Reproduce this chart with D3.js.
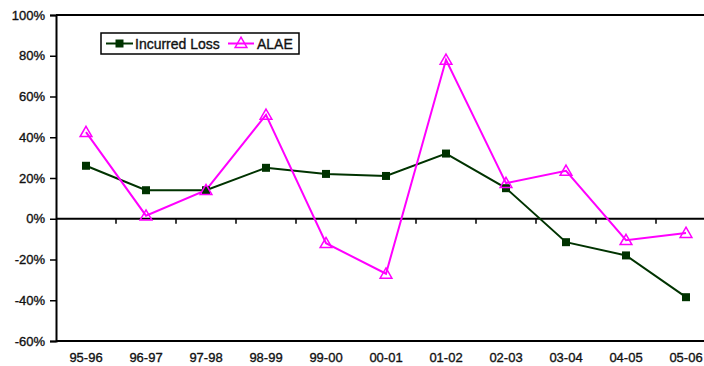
<!DOCTYPE html>
<html>
<head>
<meta charset="utf-8">
<script src="https://cdn.jsdelivr.net/npm/d3@7"></script>
<style>
  html, body { margin: 0; padding: 0; background: #fff; }
  svg { display: block; font-family: "Liberation Sans", Arial, sans-serif; }
  .lbl { stroke: #111; stroke-width: 0.35px; fill: #111; }
</style>
</head>
<body>
<svg id="chart" width="704" height="366"></svg>
<script>
// Year-over-year change by accident-year pair
const periods = ["95-96", "96-97", "97-98", "98-99", "99-00", "00-01", "01-02", "02-03", "03-04", "04-05", "05-06"];
const incurredLoss = [26, 14, 14, 25, 22, 21, 32, 15, -11.5, -18, -38.5];
const alae = [42.5, 1.5, 14, 51, -12, -27, 78, 17.5, 23.5, -10.5, -7];
const yTicks = [-60, -40, -20, 0, 20, 40, 60, 80, 100];

const seriesNames = ["Incurred Loss", "ALAE"];
const colors = { "Incurred Loss": "#003300", "ALAE": "#ff00ff" };

const svg = d3.select("#chart");
const margin = { left: 56, top: 15, bottom: 341 };
const plotRight = 716; // plot area runs past the right edge of the window

const x = d3.scaleBand().domain(periods).range([margin.left, plotRight]).padding(0);
const y = d3.scaleLinear().domain([-60, 100]).range([margin.bottom, margin.top]);
const cx = d => x(d) + x.bandwidth() / 2;

// Frame: top and bottom borders
svg.append("line").attr("x1", margin.left).attr("x2", plotRight)
  .attr("y1", y(100)).attr("y2", y(100)).attr("stroke", "#000").attr("stroke-width", 2);
svg.append("line").attr("x1", margin.left).attr("x2", plotRight)
  .attr("y1", y(-60)).attr("y2", y(-60)).attr("stroke", "#000").attr("stroke-width", 2);

// Y axis
const yAxis = d3.axisLeft(y).tickValues(yTicks).tickFormat(d => d + "%").tickSize(6).tickPadding(5);
const gy = svg.append("g").attr("transform", `translate(${margin.left},0)`).call(yAxis);
gy.select(".domain").attr("stroke", "#000").attr("stroke-width", 2);
gy.selectAll(".tick line").attr("stroke", "#000").attr("stroke-width", 1.5);
gy.selectAll(".tick text").attr("font-size", 13).attr("class", "lbl")
  .attr("font-family", "Liberation Sans, Arial, sans-serif");

// X axis along zero line, ticks between categories
const gx = svg.append("g").attr("transform", `translate(0,${y(0)})`);
gx.append("line").attr("x1", margin.left).attr("x2", plotRight).attr("stroke", "#000").attr("stroke-width", 2);
gx.selectAll("line.sep").data(periods.slice(1)).enter().append("line")
  .attr("class", "sep")
  .attr("x1", d => x(d)).attr("x2", d => x(d))
  .attr("y1", 0).attr("y2", 5).attr("stroke", "#000").attr("stroke-width", 1.5);

// Category labels at the bottom
svg.append("g").selectAll("text").data(periods).enter().append("text")
  .attr("class", "lbl")
  .attr("x", d => cx(d)).attr("y", 362)
  .attr("text-anchor", "middle").attr("font-size", 13)
  .text(d => d);

// Lines
const line = d3.line().x((d, i) => cx(periods[i])).y(d => y(d));
svg.append("path").datum(incurredLoss).attr("d", line)
  .attr("fill", "none").attr("stroke", colors["Incurred Loss"]).attr("stroke-width", 2);
svg.append("path").datum(alae).attr("d", line)
  .attr("fill", "none").attr("stroke", colors["ALAE"]).attr("stroke-width", 2);

// Markers
const square = d3.symbol().type(d3.symbolSquare).size(64);
const triangle = d3.symbol().type(d3.symbolTriangle).size(60);

svg.append("g").selectAll("path").data(incurredLoss).enter().append("path")
  .attr("d", square)
  .attr("transform", (d, i) => `translate(${cx(periods[i])},${y(d)})`)
  .attr("fill", colors["Incurred Loss"]);

svg.append("g").selectAll("path").data(alae).enter().append("path")
  .attr("d", triangle)
  .attr("transform", (d, i) => `translate(${cx(periods[i])},${y(d) + 1})`)
  .attr("fill", "none").attr("stroke", colors["ALAE"]).attr("stroke-width", 1.5);

// Legend
const legend = svg.append("g");
legend.append("rect").attr("x", 101).attr("y", 33).attr("width", 198).attr("height", 21)
  .attr("fill", "#fff").attr("stroke", "#000").attr("stroke-width", 1.5);
const legendItems = [
  { name: seriesNames[0], x0: 106, x1: 133, tx: 135, marker: square, fill: colors["Incurred Loss"], stroke: "none" },
  { name: seriesNames[1], x0: 228, x1: 254, tx: 257, marker: triangle, fill: "none", stroke: colors["ALAE"] }
];
legendItems.forEach(it => {
  const c = it.name === "ALAE" ? colors["ALAE"] : colors["Incurred Loss"];
  legend.append("line").attr("x1", it.x0).attr("x2", it.x1).attr("y1", 43.5).attr("y2", 43.5)
    .attr("stroke", c).attr("stroke-width", 2);
  legend.append("path").attr("d", it.marker)
    .attr("transform", `translate(${(it.x0 + it.x1) / 2},${43.5 + (it.name === "ALAE" ? 0.5 : 0)})`)
    .attr("fill", it.fill).attr("stroke", it.stroke).attr("stroke-width", 1.5);
  legend.append("text").attr("class", "lbl").attr("x", it.tx).attr("y", 48.5)
    .attr("font-size", 14).text(it.name);
});
</script>
</body>
</html>
